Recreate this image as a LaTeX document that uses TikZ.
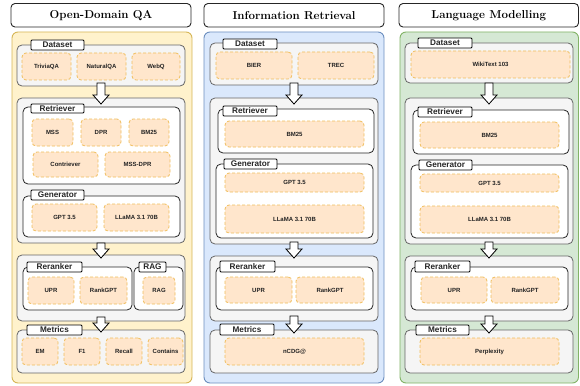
\documentclass[tikz,border=0pt]{standalone}
\usepackage{fontspec}
\setsansfont{Liberation Sans}
\usetikzlibrary{calc}
\definecolor{ypanel}{HTML}{FFF2CC}\definecolor{ypanelD}{HTML}{D6B656}
\definecolor{bpanel}{HTML}{DAE8FC}\definecolor{bpanelD}{HTML}{6C8EBF}
\definecolor{gpanel}{HTML}{D5E8D4}\definecolor{gpanelD}{HTML}{82B366}
\definecolor{grpF}{HTML}{F5F5F5}\definecolor{grpD}{HTML}{666666}
\definecolor{itemF}{HTML}{FFE6CC}\definecolor{itemD}{HTML}{F0BE5C}
\definecolor{txt}{HTML}{222222}
\tikzset{
  base/.style={inner sep=0pt, outer sep=0pt},
  titlebox/.style={base, draw=black!85, fill=white, line width=0.9pt, rounded corners=4pt, font=\rmfamily\bfseries\fontsize{11.5}{12}\selectfont},
  panel/.style={base, line width=0.9pt, rounded corners=6pt},
  grp/.style={base, draw=grpD, fill=grpF, line width=0.8pt, rounded corners=5pt},
  sub/.style={base, draw=black!85, fill=white, line width=0.8pt, rounded corners=5pt},
  tab/.style={base, draw=black, fill=white, line width=0.8pt, rounded corners=1pt, font=\sffamily\bfseries\fontsize{8.2}{9}\selectfont, text=black!85},
  item/.style={base, draw=itemD, fill=itemF, line width=0.8pt, dash pattern=on 3pt off 2pt, rounded corners=4pt, font=\sffamily\bfseries\fontsize{6}{6}\selectfont, text=txt},
  barrow/.style={draw=black, fill=white, line width=0.8pt, line join=miter},
}
\newcommand{\bx}[7]{\node[#2, minimum width={(#5-#3)*1pt}, minimum height={(#6-#4)*1pt}] (#1) at ({(#3+#5)/2},{(#4+#6)/2}) {#7};}
\begin{document}
\begin{tikzpicture}[x=1pt,y=-1pt]
\useasboundingbox (0,0) rectangle (580,385);
% ---------- titles
\bx{t1}{titlebox}{11}{3.5}{191}{27}{Open-Domain QA}
\bx{t2}{titlebox}{204}{3.5}{384}{27}{Information Retrieval}
\bx{t3}{titlebox}{399}{3.5}{578.5}{27}{Language Modelling}
% ---------- panels
\bx{p1}{panel, fill=ypanel, draw=ypanelD}{12}{32}{192}{383}{}
\bx{p2}{panel, fill=bpanel, draw=bpanelD}{204}{32}{384}{383}{}
\bx{p3}{panel, fill=gpanel, draw=gpanelD}{400}{32}{578.5}{383}{}
% ================= column 1
\bx{a1}{grp}{17}{45}{185}{86}{}
\bx{a1tab}{tab}{31}{40}{84}{50}{Dataset}
\bx{a1i1}{item}{22}{53}{71}{80}{TriviaQA}
\bx{a1i2}{item}{77}{53}{126}{80}{NaturalQA}
\bx{a1i3}{item}{132}{53}{180}{80}{WebQ}

\bx{b1}{grp}{17}{98}{185}{243}{}
\bx{b1r}{sub}{23}{107}{180}{184}{}
\bx{b1rtab}{tab}{31}{104}{84}{113}{Retriever}
\bx{b1i1}{item}{32}{119}{73}{146}{MSS}
\bx{b1i2}{item}{81}{119}{121}{146}{DPR}
\bx{b1i3}{item}{129}{119}{169}{146}{BM25}
\bx{b1i4}{item}{33}{152}{98}{177}{Contriever}
\bx{b1i5}{item}{105}{152}{170}{177}{MSS-DPR}
\bx{b1g}{sub}{23}{196}{180}{237}{}
\bx{b1gtab}{tab}{31}{190}{84}{200}{Generator}
\bx{b1i6}{item}{32}{204}{97}{231}{GPT 3.5}
\bx{b1i7}{item}{104}{204}{169}{231}{LLaMA 3.1 70B}

\bx{c1}{grp}{17}{255}{185}{321}{}
\bx{c1r}{sub}{23}{267}{132}{310}{}
\bx{c1rtab}{tab}{27}{262}{82}{272}{Reranker}
\bx{c1i1}{item}{28}{277}{74}{304}{UPR}
\bx{c1i2}{item}{80}{277}{127}{304}{RankGPT}
\bx{c1g}{sub}{134}{267}{183}{310}{}
\bx{c1gtab}{tab}{139}{262}{166}{272}{RAG}
\bx{c1i3}{item}{143}{277}{175}{304}{RAG}

\bx{d1}{grp}{17}{330}{185}{373}{}
\bx{d1tab}{tab}{27}{325}{82}{335}{Metrics}
\bx{d1i1}{item}{22}{338}{58}{365}{EM}
\bx{d1i2}{item}{64}{338}{100}{365}{F1}
\bx{d1i3}{item}{106}{338}{142}{365}{Recall}
\bx{d1i4}{item}{148}{338}{183}{365}{Contains}
% ================= column 2
\bx{a2}{grp}{210}{43}{378}{85}{}
\bx{a2tab}{tab}{223}{39}{277}{49}{Dataset}
\bx{a2i1}{item}{216}{52}{292}{79}{BIER}
\bx{a2i2}{item}{298}{52}{374}{79}{TREC}

\bx{b2}{grp}{210}{98}{378}{244}{}
\bx{b2r}{sub}{218}{109}{374}{153}{}
\bx{b2rtab}{tab}{223}{106}{277}{116}{Retriever}
\bx{b2i1}{item}{225}{121}{364}{147}{BM25}
\bx{b2g}{sub}{216}{164}{373}{238}{}
\bx{b2gtab}{tab}{224}{159}{277}{169}{Generator}
\bx{b2i2}{item}{225}{173}{364}{192}{GPT 3.5}
\bx{b2i3}{item}{225}{205}{364}{233}{LLaMA 3.1 70B}

\bx{c2}{grp}{210}{256}{378}{321}{}
\bx{c2r}{sub}{216}{267}{373}{310}{}
\bx{c2rtab}{tab}{220}{261}{275}{272}{Reranker}
\bx{c2i1}{item}{225}{277}{292}{303}{UPR}
\bx{c2i2}{item}{296}{277}{364}{303}{RankGPT}

\bx{d2}{grp}{210}{330}{378}{373}{}
\bx{d2tab}{tab}{220}{324}{274}{335}{Metrics}
\bx{d2i1}{item}{225}{338}{364}{365}{nCDG@}
% ================= column 3
\bx{a3}{grp}{405}{43}{573}{83}{}
\bx{a3tab}{tab}{418}{38}{472}{48}{Dataset}
\bx{a3i1}{item}{411}{51}{570}{78}{WikiText 103}

\bx{b3}{grp}{405}{98}{573}{244}{}
\bx{b3r}{sub}{413}{110}{569}{154}{}
\bx{b3rtab}{tab}{418}{107}{472}{117}{Retriever}
\bx{b3i1}{item}{420}{122}{559}{148}{BM25}
\bx{b3g}{sub}{411}{165}{568}{238}{}
\bx{b3gtab}{tab}{419}{160}{472}{170}{Generator}
\bx{b3i2}{item}{420}{174}{559}{192}{GPT 3.5}
\bx{b3i3}{item}{420}{206}{559}{233}{LLaMA 3.1 70B}

\bx{c3}{grp}{405}{256}{573}{321}{}
\bx{c3r}{sub}{411}{267}{568}{310}{}
\bx{c3rtab}{tab}{415}{261}{470}{272}{Reranker}
\bx{c3i1}{item}{421}{277}{487}{303}{UPR}
\bx{c3i2}{item}{491}{277}{559}{303}{RankGPT}

\bx{d3}{grp}{405}{330}{573}{373}{}
\bx{d3tab}{tab}{416}{325}{469}{335}{Metrics}
\bx{d3i1}{item}{420}{338}{559}{365}{Perplexity}
% ================= block arrows (from group to group)
\newcommand{\blockarrow}[4]{%
  \coordinate (s) at ($(#1.south)+(0,-#3)$);
  \coordinate (t) at ($(#2.north)+(0,#4)$);
  \draw[barrow] ($(s)+(-4,0)$) -- ($(s)+(4,0)$) -- ($(t)+(4,-9)$) -- ($(t)+(8,-9)$) -- (t)
     -- ($(t)+(-8,-9)$) -- ($(t)+(-4,-9)$) -- cycle;
}
\blockarrow{a1}{b1}{3}{6}
\blockarrow{b1}{c1}{0}{3}
\blockarrow{c1}{d1}{4}{2}
\blockarrow{a2}{b2}{2}{6}
\blockarrow{b2}{c2}{2}{2}
\blockarrow{c2}{d2}{5}{3}
\blockarrow{a3}{b3}{0}{6}
\blockarrow{b3}{c3}{2}{2}
\blockarrow{c3}{d3}{5}{3}
\end{tikzpicture}
\end{document}
